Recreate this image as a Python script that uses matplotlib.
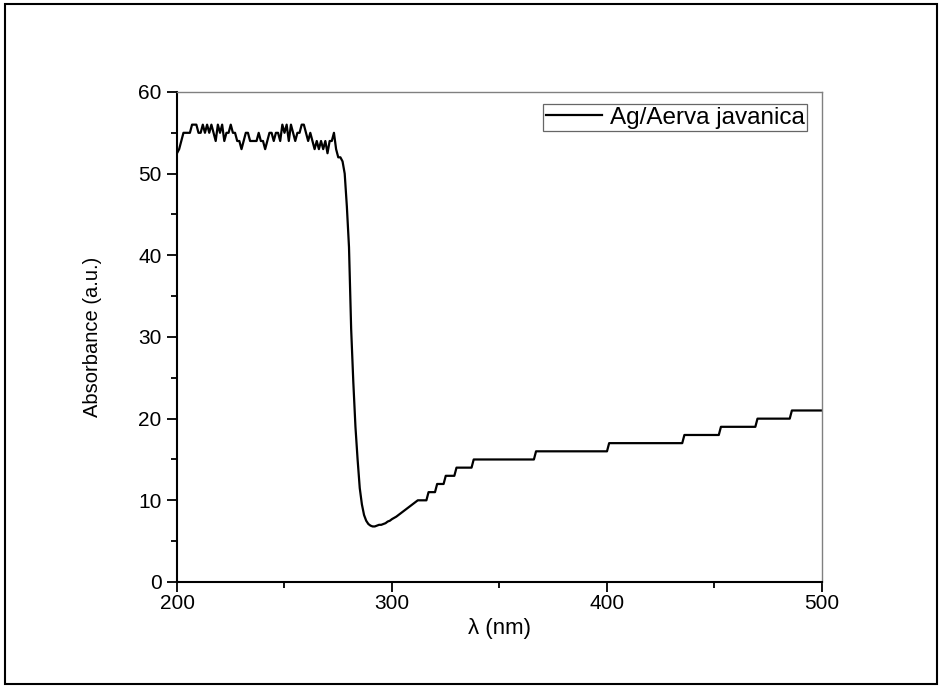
import numpy as np
import matplotlib
matplotlib.use("Agg")
import matplotlib.pyplot as plt
from matplotlib.patches import Rectangle
from matplotlib.ticker import MultipleLocator

plt.rcParams['font.family'] = ['Liberation Sans', 'DejaVu Sans']

# dense part of the spectrum, 1 nm steps from 200 nm
wl_dense = np.arange(200, 300)
abs_dense = [
    52.5, 53, 54, 55, 55, 55, 55, 56, 56, 56,
    55, 55, 56, 55, 56, 55, 56, 55, 54, 56,
    55, 56, 54, 55, 55, 56, 55, 55, 54, 54,
    53, 54, 55, 55, 54, 54, 54, 54, 55, 54,
    54, 53, 54, 55, 55, 54, 55, 55, 54, 56,
    55, 56, 54, 56, 55, 54, 55, 55, 56, 56,
    55, 54, 55, 54, 53, 54, 53, 54, 53, 54,
    52.5, 54, 54, 55, 53, 52, 52, 51.5, 50, 46,
    41, 31, 24.5, 19, 15, 11.5, 9.5, 8.2, 7.5, 7.1,
    6.9, 6.8, 6.8, 6.9, 7.0, 7.0, 7.1, 7.2, 7.4, 7.5,
]

# stepped part (instrument resolution of 1 a.u.)
wl_steps = [300, 302, 304, 306, 308, 310, 312, 316, 317, 320, 321, 324, 325, 329,
            330, 337, 338, 366, 367, 400, 401, 435, 436, 452, 453, 469, 470,
            485, 486, 500]
abs_steps = [7.7, 8.0, 8.4, 8.8, 9.2, 9.6, 10, 10, 11, 11, 12, 12, 13, 13,
             14, 14, 15, 15, 16, 16, 17, 17, 18, 18, 19, 19, 20,
             20, 21, 21]

wavelength = np.concatenate([wl_dense, wl_steps])
absorbance = np.concatenate([abs_dense, abs_steps])

fig = plt.figure(figsize=(9.42, 6.88), dpi=100)
ax = fig.add_axes([0.1879, 0.1541, 0.6847, 0.7122])

ax.plot(wavelength, absorbance, color='black', linewidth=1.6,
        label='Ag/Aerva javanica')

ax.set_xlim(200, 500)
ax.set_ylim(0, 60)
ax.xaxis.set_major_locator(MultipleLocator(100))
ax.xaxis.set_minor_locator(MultipleLocator(50))
ax.yaxis.set_major_locator(MultipleLocator(10))
ax.yaxis.set_minor_locator(MultipleLocator(5))
ax.tick_params(which='both', direction='out', width=1.3, labelsize=15,
               top=False, right=False)
ax.tick_params(which='major', length=7)
ax.tick_params(axis='y', which='major', pad=4)
ax.tick_params(axis='x', which='major', pad=2)
ax.tick_params(which='minor', length=4)

for side in ['left', 'bottom']:
    ax.spines[side].set_linewidth(1.5)
    ax.spines[side].set_color('black')
for side in ['top', 'right']:
    ax.spines[side].set_linewidth(1.0)
    ax.spines[side].set_color('#808080')

ax.set_xlabel('λ (nm)', fontsize=16, labelpad=3)
ax.set_ylabel('Absorbance (a.u.)', fontsize=14.5, labelpad=26)

leg = ax.legend(loc='upper right', fontsize=17.5, frameon=True, fancybox=False,
                borderpad=0.1, handlelength=2.3, handletextpad=0.35,
                bbox_to_anchor=(0.985, 0.985), borderaxespad=0.2)
leg.get_frame().set_edgecolor('#404040')
leg.get_frame().set_linewidth(0.9)

fig.patches.append(Rectangle((0.005, 0.006), 0.99, 0.988, transform=fig.transFigure,
                             fill=False, edgecolor='black', linewidth=1.5))

fig.savefig('out.png', dpi=100)
